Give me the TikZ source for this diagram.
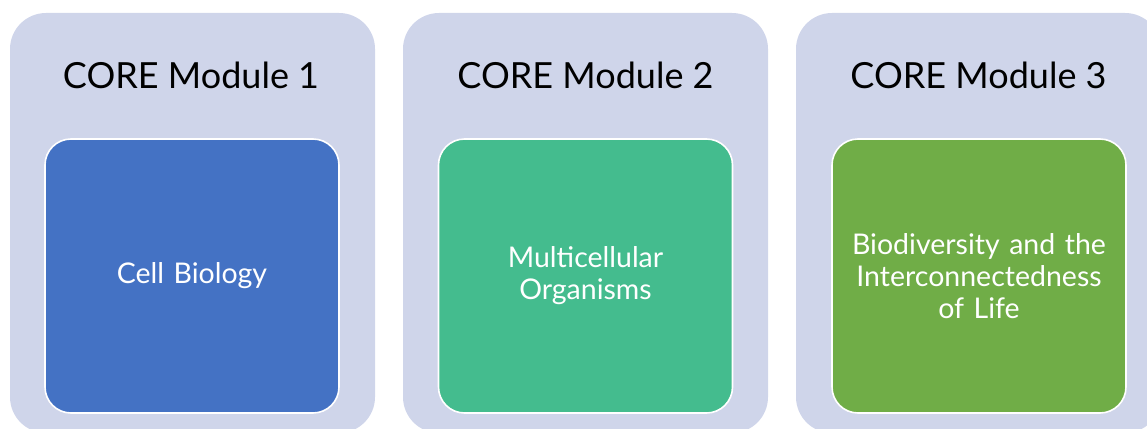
\documentclass[tikz,border=0pt]{standalone}
\usepackage{fontspec}
\setmainfont{Lato}
\usetikzlibrary{positioning}

\definecolor{panelbg}{HTML}{CFD5EA}
\definecolor{cellblue}{HTML}{4472C4}
\definecolor{multiteal}{HTML}{44BC8E}
\definecolor{biogreen}{HTML}{70AD47}

\begin{document}
\begin{tikzpicture}[
        x=1pt, y=-1pt,
        panel/.style={fill=panelbg, rounded corners=36pt, minimum width=365pt,
        minimum height=420pt, inner sep=0pt},
        title/.style={font=\fontsize{36}{42}\selectfont, text=black},
        topic/.style={draw=white, line width=1.6pt, rounded corners=26pt,
        minimum width=294pt, minimum height=274pt, text width=280pt,
        align=center, text=white, font=\fontsize{28.5}{32}\selectfont}
      ]
      \useasboundingbox (0,0) rectangle (1147,428);

      % Panels
      \node[panel] (P1) at (192.5, 223) {};
      \node[panel] (P2) at (585.5, 223) {};
      \node[panel] (P3) at (978.5, 223) {};

      % Titles
      \node[title] (T1) at (191, 75) {CORE Module 1};
      \node[title] (T2) at (585.5, 75) {CORE Module 2};
      \node[title] (T3) at (978.5, 75) {CORE Module 3};

      % Topics
      \node[topic, fill=cellblue] (C1) at (192, 276) {Cell Biology};
      \node[topic, fill=multiteal] (C2) at (585.5, 276) {Multicellular\\Organisms};
      \node[topic, fill=biogreen] (C3) at (979, 276)
      {Biodiversity and the\\Interconnectedness\\of Life};
    \end{tikzpicture}
\end{document}
